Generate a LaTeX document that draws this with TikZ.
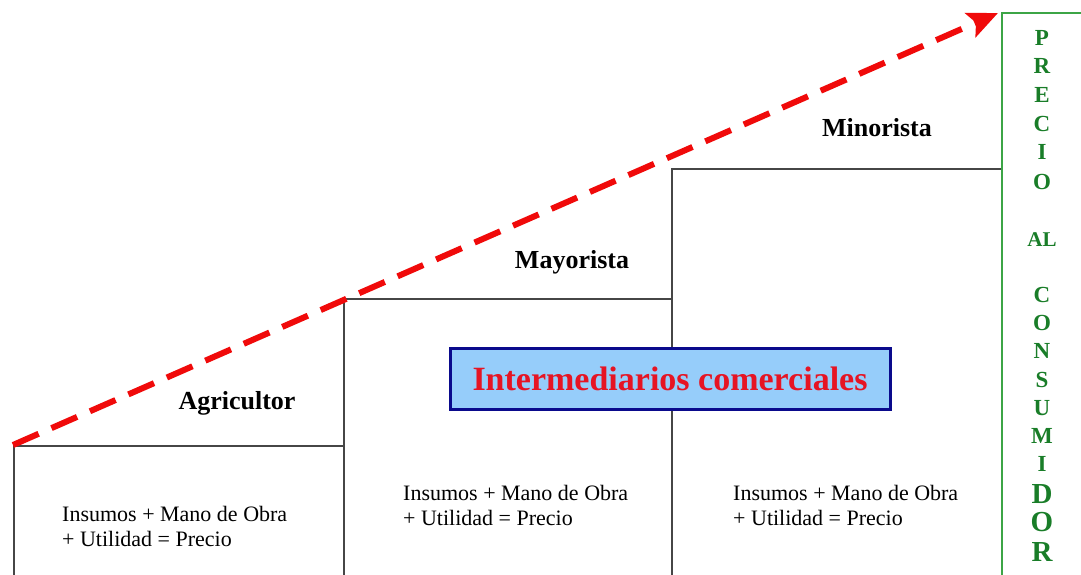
\documentclass[tikz,border=0pt]{standalone}
\usepackage{fontspec}
\setmainfont{Liberation Serif}
\usetikzlibrary{arrows.meta}
\definecolor{boxgray}{RGB}{70,70,70}
\definecolor{colgreen}{RGB}{60,165,70}
\definecolor{lettgreen}{RGB}{25,125,40}
\definecolor{navyb}{RGB}{10,10,140}
\definecolor{lightblue}{RGB}{150,205,250}
\definecolor{redtxt}{RGB}{230,20,35}
\definecolor{arrowred}{RGB}{240,10,10}
\tikzset{
  stage/.style={draw=boxgray, line width=2.2pt, fill=white, anchor=north west, inner sep=0pt},
  lbl/.style={font=\bfseries\fontsize{26}{28}\selectfont, inner sep=0pt},
  body/.style={font=\fontsize{22}{25}\selectfont, align=left, inner sep=0pt, anchor=west},
  letter/.style={text=lettgreen, inner sep=0pt},
  redarrow/.style={draw=arrowred, line width=6pt, dash pattern=on 28pt off 14pt, -{Stealth[length=30pt,width=26pt,inset=6pt]}}
}
\begin{document}
\begin{tikzpicture}[x=1pt,y=1pt]
\useasboundingbox (0,0) rectangle (1081,574);
\fill[white] (0,0) rectangle (1081,574);
\clip (0,0) rectangle (1081,574);
% stages
\node[stage, minimum width=330pt, minimum height=150pt] (b1) at (13,129) {};
\node[stage, minimum width=328pt, minimum height=300pt] (b2) at (343,276) {};
\node[stage, minimum width=330pt, minimum height=430pt] (b3) at (671,406) {};
% consumer column
\node[draw=colgreen, line width=2pt, fill=white, anchor=north west, inner sep=0pt, minimum width=110pt, minimum height=590pt] (col) at (1001,562) {};
% labels
\node[lbl] (agr) at (237,171) {Agricultor};
\node[lbl] (may) at (572,312) {Mayorista};
\node[lbl] (min) at (877,446) {Minorista};
% body texts
\node[body] (t1) at (62,48) {Insumos + Mano de Obra\\+ Utilidad = Precio};
\node[body] (t2) at (403,69) {Insumos + Mano de Obra\\+ Utilidad = Precio};
\node[body] (t3) at (733,69) {Insumos + Mano de Obra\\+ Utilidad = Precio};
% intermediaries box
\node[draw=navyb, line width=3pt, fill=lightblue, minimum width=440pt, minimum height=61pt, inner sep=0pt,
      font=\bfseries\fontsize{34}{36}\selectfont, text=redtxt] (im) at (670,195.5) {Intermediarios comerciales};
% column letters
\foreach \ch/\yy/\sz [count=\i] in {P/38/23, R/66/23, E/95/23, C/124/23, I/152/23, O/182/23, AL/240/21,
   C/295/23, O/323/23, N/351/23, S/380/23, U/408/23, M/436/23, I/464/23, D/494/29, O/522/29, R/552/29}
   \node[letter, font=\bfseries\fontsize{\sz}{\sz}\selectfont] (L\i) at (1042,574-\yy) {\ch};
% dashed arrow
\coordinate (tip) at (998,561);
\draw[redarrow] (b1.north west) -- (tip);
\end{tikzpicture}
\end{document}
